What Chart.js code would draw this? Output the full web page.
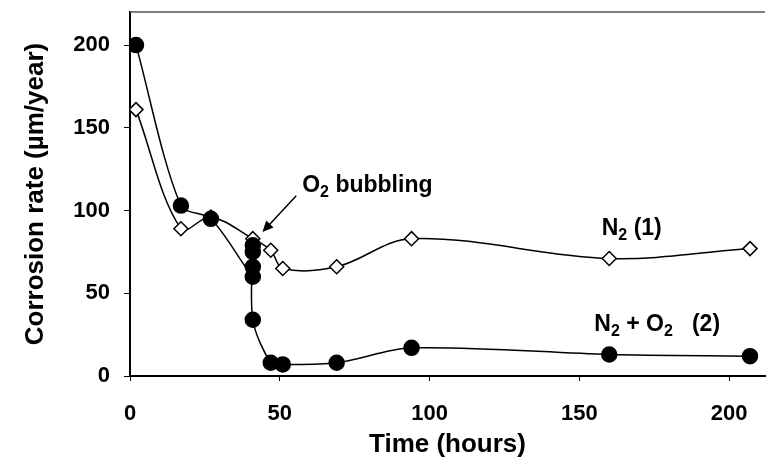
<!DOCTYPE html>
<html>
<head>
<meta charset="utf-8">
<script src="https://cdn.jsdelivr.net/npm/chart.js@4.4.1/dist/chart.umd.min.js"></script>
<style>
  html, body { margin: 0; padding: 0; background: #fff; }
  #wrap { width: 766px; height: 467px; }
</style>
</head>
<body>
<div id="wrap"><canvas id="chart"></canvas></div>
<script>
// N2 + O2 (2) run, filled circles; several readings were taken at 41 h when O2 bubbling started
var o2Hours = [2, 17, 27, 41, 41, 41, 41, 41, 47, 51, 69, 94, 160, 207];
var o2Rate = [200, 103, 95, 60, 66, 75, 79, 34, 8, 7, 8, 17, 13, 12];

// N2 (1) run, open diamonds
var n2Hours = [2, 17, 27, 41, 47, 51, 69, 94, 160, 207];
var n2Rate = [161, 89, 96, 83, 76, 65, 66, 83, 71, 77];

var xTicks = [0, 50, 100, 150, 200];
var yTicks = [0, 50, 100, 150, 200];

var FONT = "'Liberation Sans', Arial, Helvetica, sans-serif";

function toPoints(xs, ys) {
    return xs.map(function (x, i) { return { x: x, y: ys[i] }; });
}

// text with a subscript "2", drawn in data coordinates
function drawLabel(ctx, parts, x, y) {
    var cx = x;
    parts.forEach(function (p) {
        if (p.sub) {
            ctx.font = "bold 16px " + FONT;
            ctx.fillText(p.t, cx, y + 5);
        } else {
            ctx.font = "bold 23px " + FONT;
            ctx.fillText(p.t, cx, y);
        }
        cx += ctx.measureText(p.t).width;
    });
}

var extras = {
    id: 'extras',
    afterDraw: function (chart) {
        var ctx = chart.ctx;
        var area = chart.chartArea;
        var xs = chart.scales.x, ys = chart.scales.y;
        ctx.save();

        // top frame line
        ctx.strokeStyle = '#555';
        ctx.lineWidth = 1.5;
        ctx.beginPath();
        ctx.moveTo(area.left, area.top);
        ctx.lineTo(area.right, area.top);
        ctx.stroke();

        ctx.fillStyle = '#000';
        ctx.textBaseline = 'alphabetic';
        drawLabel(ctx, [{ t: 'O' }, { t: '2', sub: true }, { t: ' bubbling' }],
            xs.getPixelForValue(57.5), ys.getPixelForValue(111));
        drawLabel(ctx, [{ t: 'N' }, { t: '2', sub: true }, { t: ' (1)' }],
            xs.getPixelForValue(157.5), ys.getPixelForValue(85));
        drawLabel(ctx, [{ t: 'N' }, { t: '2', sub: true }, { t: ' + O' }, { t: '2', sub: true }, { t: '   (2)' }],
            xs.getPixelForValue(155), ys.getPixelForValue(27));

        // arrow to the O2 bubbling point
        var x0 = xs.getPixelForValue(55.5), y0 = ys.getPixelForValue(109);
        var x1 = xs.getPixelForValue(44.2), y1 = ys.getPixelForValue(87);
        var ang = Math.atan2(y1 - y0, x1 - x0);
        ctx.strokeStyle = '#000';
        ctx.lineWidth = 1.5;
        ctx.beginPath();
        ctx.moveTo(x0, y0);
        ctx.lineTo(x1 - 6 * Math.cos(ang), y1 - 6 * Math.sin(ang));
        ctx.stroke();
        ctx.beginPath();
        ctx.moveTo(x1, y1);
        ctx.lineTo(x1 - 11 * Math.cos(ang) + 5 * Math.sin(ang), y1 - 11 * Math.sin(ang) - 5 * Math.cos(ang));
        ctx.lineTo(x1 - 11 * Math.cos(ang) - 5 * Math.sin(ang), y1 - 11 * Math.sin(ang) + 5 * Math.cos(ang));
        ctx.closePath();
        ctx.fill();

        ctx.restore();
    }
};

new Chart(document.getElementById('chart').getContext('2d'), {
    type: 'line',
    data: {
        datasets: [
            {
                label: 'N2 + O2 (2)',
                data: toPoints(o2Hours, o2Rate),
                borderColor: '#000',
                backgroundColor: '#000',
                borderWidth: 1.5,
                pointStyle: 'circle',
                pointRadius: 7.5,
                pointBackgroundColor: '#000',
                pointBorderColor: '#000',
                tension: 0.3
            },
            {
                label: 'N2 (1)',
                data: toPoints(n2Hours, n2Rate),
                borderColor: '#000',
                backgroundColor: '#fff',
                borderWidth: 1.5,
                pointStyle: 'rectRot',
                pointRadius: 7,
                pointBackgroundColor: '#fff',
                pointBorderColor: '#000',
                pointBorderWidth: 1.5,
                tension: 0.35
            }
        ]
    },
    options: {
        responsive: true,
        maintainAspectRatio: false,
        animation: false,
        layout: { autoPadding: false, padding: { top: 12, right: 1, left: 0, bottom: 0 } },
        plugins: {
            legend: { display: false },
            tooltip: { enabled: false }
        },
        scales: {
            x: {
                type: 'linear',
                min: 0,
                max: 212,
                afterBuildTicks: function (axis) {
                    axis.ticks = xTicks.map(function (v) { return { value: v }; });
                },
                afterFit: function (axis) {
                    axis.height = 91;
                    axis.paddingLeft = 0;
                    axis.paddingRight = 0;
                },
                grid: { drawOnChartArea: false, tickLength: 5, color: '#000', lineWidth: 1 },
                border: { display: true, color: '#000', width: 2 },
                ticks: {
                    color: '#000',
                    padding: 20,
                    maxRotation: 0,
                    font: { family: FONT, size: 22, weight: 'bold' }
                },
                title: {
                    display: true,
                    text: 'Time (hours)',
                    color: '#000',
                    padding: { top: 0, bottom: 7 },
                    font: { family: FONT, size: 26, weight: 'bold' }
                }
            },
            y: {
                min: 0,
                max: 220,
                afterBuildTicks: function (axis) {
                    axis.ticks = yTicks.map(function (v) { return { value: v }; });
                },
                afterFit: function (axis) {
                    axis.width = 130;
                    axis.paddingTop = 0;
                    axis.paddingBottom = 0;
                },
                grid: { drawOnChartArea: false, tickLength: 6, color: '#000', lineWidth: 1 },
                border: { display: true, color: '#000', width: 2 },
                ticks: {
                    color: '#000',
                    padding: 14,
                    font: { family: FONT, size: 22, weight: 'bold' }
                },
                title: {
                    display: true,
                    text: 'Corrosion rate (\u00b5m/year)',
                    color: '#000',
                    padding: { top: 20, bottom: 0 },
                    font: { family: FONT, size: 26, weight: 'bold' }
                }
            }
        }
    },
    plugins: [extras]
});
</script>
</body>
</html>
